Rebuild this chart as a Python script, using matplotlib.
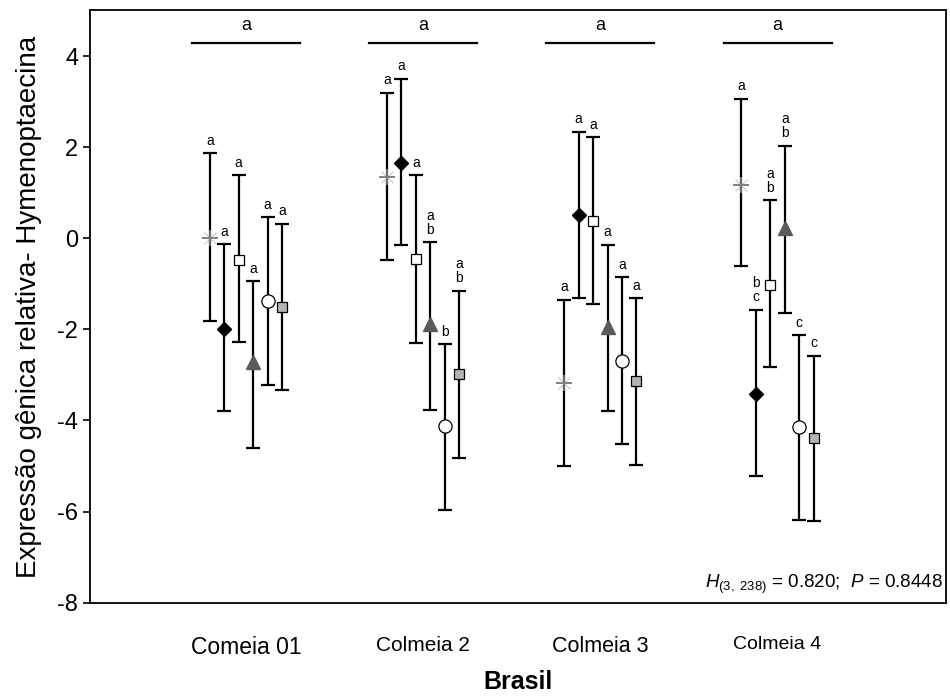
import numpy as np
import matplotlib.pyplot as plt

plt.rcParams['font.family'] = ['Liberation Sans', 'DejaVu Sans']
plt.rcParams['mathtext.fontset'] = 'custom'
plt.rcParams['mathtext.rm'] = 'Liberation Sans'
plt.rcParams['mathtext.it'] = 'Liberation Sans:italic'
plt.rcParams['axes.unicode_minus'] = False

groups = ['Comeia 01', 'Colmeia 2', 'Colmeia 3', 'Colmeia 4']
group_fs = [16.5, 15, 15.5, 14]

# mean, upper, lower for each series (one value per group)
star_mean = [0.0, 1.34, -3.17, 1.17]
star_hi = [1.87, 3.19, -1.35, 3.06]
star_lo = [-1.81, -0.47, -5.0, -0.61]

diam_mean = [-2.0, 1.65, 0.5, -3.41]
diam_hi = [-0.13, 3.5, 2.34, -1.57]
diam_lo = [-3.8, -0.15, -1.32, -5.21]

sq_mean = [-0.47, -0.46, 0.37, -1.02]
sq_hi = [1.38, 1.38, 2.22, 0.84]
sq_lo = [-2.27, -2.29, -1.44, -2.83]

tri_mean = [-2.72, -1.88, -1.95, 0.23]
tri_hi = [-0.94, -0.09, -0.14, 2.03]
tri_lo = [-4.6, -3.76, -3.8, -1.64]

circ_mean = [-1.37, -4.13, -2.69, -4.15]
circ_hi = [0.46, -2.33, -0.85, -2.13]
circ_lo = [-3.22, -5.97, -4.52, -6.18]

gsq_mean = [-1.52, -2.99, -3.13, -4.39]
gsq_hi = [0.32, -1.15, -1.32, -2.58]
gsq_lo = [-3.34, -4.83, -4.97, -6.2]

# letters above each bar
star_let = ['a', 'a', 'a', 'a']
diam_let = ['a', 'a', 'a', 'b\nc']
sq_let = ['a', 'a', 'a', 'a\nb']
tri_let = ['a', 'a\nb', 'a', 'a\nb']
circ_let = ['a', 'b', 'a', 'c']
gsq_let = ['a', 'a\nb', 'a', 'c']

group_let = ['a', 'a', 'a', 'a']
group_line_y = 4.28

series = [
    (star_mean, star_hi, star_lo, star_let),
    (diam_mean, diam_hi, diam_lo, diam_let),
    (sq_mean, sq_hi, sq_lo, sq_let),
    (tri_mean, tri_hi, tri_lo, tri_let),
    (circ_mean, circ_hi, circ_lo, circ_let),
    (gsq_mean, gsq_hi, gsq_lo, gsq_let),
]
styles = [
    dict(marker='+', mec='#808080', mfc='none', ms=12, mew=1.2),
    dict(marker='D', mec='black', mfc='black', ms=7),
    dict(marker='s', mec='black', mfc='white', ms=7.5, mew=0.9),
    dict(marker='^', mec='#5a5a5a', mfc='#5a5a5a', ms=10),
    dict(marker='o', mec='black', mfc='white', ms=9.5, mew=0.9),
    dict(marker='s', mec='black', mfc='#b4b4b4', ms=7.5, mew=0.9),
]

fig = plt.figure(figsize=(9.5, 6.96), dpi=100)
ax = fig.add_axes([0.0947, 0.134, 0.901, 0.851])

x = np.arange(1, 5)
step = 0.0815
for k, (m, hi, lo, let) in enumerate(series):
    xs = x + (k - 2.5) * step
    m = np.array(m)
    yerr = [m - np.array(lo), np.array(hi) - m]
    st = styles[k]
    ax.errorbar(xs, m, yerr=yerr, fmt='none', ecolor='black', elinewidth=1.6,
                capsize=5, capthick=1.6, zorder=2)
    ax.plot(xs, m, linestyle='none', marker=st['marker'], ms=st['ms'],
            mfc=st['mfc'], mec=st['mec'], mew=st.get('mew', 1), zorder=3)
    if k == 0:
        ax.plot(xs, m, linestyle='none', marker='x', ms=9, mew=0.6,
                color='#b8b8b8', zorder=2.5)
        ax.plot(xs, m, linestyle='none', marker='_', ms=12, mew=1.2,
                color='#808080', zorder=3)
    for xi, h, t in zip(xs, hi, let):
        ax.text(xi, h + 0.12, t, ha='center', va='bottom', fontsize=10,
                linespacing=1.0)

for xi, t in zip(x, group_let):
    ax.plot([xi - 0.305, xi + 0.305], [group_line_y, group_line_y], color='black', lw=1.6)
    ax.text(xi, group_line_y + 0.2, t, ha='center', va='bottom', fontsize=13)

ax.set_xlim(0.12, 4.95)
ax.set_ylim(-8, 5)
ax.set_yticks([4, 2, 0, -2, -4, -6, -8])
ax.set_xticks(x)
ax.set_xticklabels(groups)
for lab, fs in zip(ax.get_xticklabels(), group_fs):
    lab.set_fontsize(fs)
ax.tick_params(axis='x', length=0, pad=24)
ax.tick_params(axis='y', labelsize=17, length=5, width=1.2)
for s in ax.spines.values():
    s.set_linewidth(1.3)

ax.set_xlabel('Brasil', fontsize=18, fontweight='bold', labelpad=8)
ax.set_ylabel('Expressão gênica relativa- Hymenoptaecina', fontsize=20)
ax.yaxis.set_label_coords(-0.056, 0.5)

ax.text(0.997, 0.012, r'$\it{H}_{\rm{(3,\ 238)}}$ = 0.820;  $\it{P}$ = 0.8448',
        transform=ax.transAxes, ha='right', va='bottom', fontsize=13.5)

fig.savefig('out.png', dpi=100)
